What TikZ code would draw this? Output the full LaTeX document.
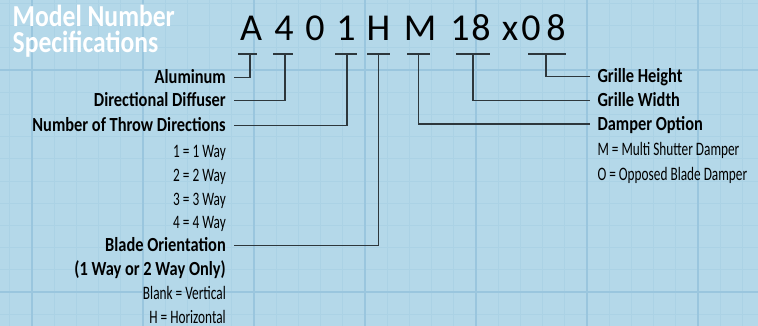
\documentclass[tikz,border=0pt]{standalone}
\usepackage{fontspec}
\setmainfont{Carlito}
\newfontfamily\titlefont[FakeStretch=0.84]{Carlito}
\newfontfamily\boldcond[FakeStretch=0.82]{Carlito}
\newfontfamily\lightcond[FakeStretch=0.7]{Carlito}
\usepackage{tikz}
\usetikzlibrary{positioning}
\definecolor{gridbg}{RGB}{180,216,233}
\definecolor{gridmajor}{RGB}{154,198,222}
\definecolor{gridminor}{RGB}{171,210,229}
\definecolor{leadgray}{RGB}{45,55,60}
\tikzset{
  code/.style={font=\fontsize{38}{38}\selectfont, anchor=base, inner sep=0pt},
  ttl/.style={font=\titlefont\bfseries\fontsize{30.5}{30.5}\selectfont,
    text=white, anchor=base west, inner sep=0pt},
  head/.style={font=\boldcond\bfseries\fontsize{20}{20}\selectfont,
    text height=12.2pt, text depth=0pt, inner sep=0pt},
  opt/.style={font=\lightcond\fontsize{19}{19}\selectfont,
    text height=12.2pt, text depth=0pt, inner sep=0pt},
  bar/.style={draw=leadgray, line width=1.3pt},
  lead/.style={draw=leadgray, line width=1.3pt},
  minor/.style={draw=gridminor, line width=0.7pt},
  major/.style={draw=gridmajor, line width=1.5pt},
}
\begin{document}
\begin{tikzpicture}[x=1pt, y=-1pt]

% background and grid
\fill[gridbg] (0,0) rectangle (758,326);
\useasboundingbox (0,0) rectangle (758,326);
\foreach \i in {0,...,34} {\draw[minor] ({9.8+22.2*\i},0) -- ++(0,326);}
\foreach \j in {0,...,14} {\draw[minor] (0,{3.4+22.2*\j}) -- ++(758,0);}
\foreach \i in {0,...,6} {\draw[major] ({32+111*\i},0) -- ++(0,326);}
\foreach \j in {70,292} {\draw[major] (0,\j) -- ++(758,0);}

% title
\node[ttl] (title1) at (12.5,26.7) {Model Number};
\node[ttl] (title2) at (12.5,52.2) {Specifications};

% model number
\node[code] (cA) at (251,41) {A};
\node[code] (c4) at (284,41) {4};
\node[code] (c0) at (315,41) {0};
\node[code] (c1) at (346,41) {1};
\node[code] (cH) at (378.5,41) {H};
\node[code] (cM) at (420,41) {M};
\node[code] (cW1) at (460,41) {1};
\node[code] (cW8) at (481,41) {8};
\node[code] (cx) at (510,41) {x};
\node[code] (cH0) at (531,41) {0};
\node[code] (cH8) at (556,41) {8};

\foreach \a/\b/\m/\n in {238/257/250/tA, 273/293/285/t4, 335/357/347/t1,
  367/390/378.5/tH, 407/430/418.5/tM, 456/490/473/t18, 528/566/546/t08}
  {\draw[bar] (\a,54) -- (\b,54);
   \coordinate (\n) at (\m,54);}

% left side
\node[head, anchor=east] (alu) at (226,77.8) {Aluminum};
\node[head, anchor=east] (diff) at (226,100.3) {Directional Diffuser};
\node[head, anchor=east] (num) at (226,125.8) {Number of Throw Directions};
\node[opt, below left=12.8pt and 0pt of num.south east] (w1) {1 = 1 Way};
\node[opt, below left=11.3pt and 0pt of w1.south east] (w2) {2 = 2 Way};
\node[opt, below left=11.3pt and 0pt of w2.south east] (w3) {3 = 3 Way};
\node[opt, below left=11.3pt and 0pt of w3.south east] (w4) {4 = 4 Way};
\node[head, anchor=east] (blade) at (226,245.6) {Blade Orientation};
\node[head, below left=11.5pt and 0pt of blade.south east] (only) {(1 Way or 2 Way Only)};
\node[opt, below left=10.8pt and 0pt of only.south east] (vert) {Blank = Vertical};
\node[opt, below left=11.3pt and 0pt of vert.south east] (horiz) {H = Horizontal};

\draw[lead] (tA) |- ([xshift=8pt]alu.east);
\draw[lead] (t4) |- ([xshift=8pt]diff.east);
\draw[lead] (t1) |- ([xshift=8pt]num.east);
\draw[lead] (tH) |- ([xshift=8pt]blade.east);

% right side
\node[head, anchor=west] (high) at (597.3,76.2) {Grille Height};
\node[head, anchor=west] (wide) at (597.3,100.3) {Grille Width};
\node[head, anchor=west] (damp) at (597.3,124) {Damper Option};
\node[opt, below right=12.5pt and 0pt of damp.south west] (multi) {M = Multi Shutter Damper};
\node[opt, below right=12.3pt and 0pt of multi.south west] (oppo) {O = Opposed Blade Damper};

\draw[lead] (t08) |- ([xshift=-7pt]high.west);
\draw[lead] (t18) |- ([xshift=-7pt]wide.west);
\draw[lead] (tM) |- ([xshift=-7pt]damp.west);

\end{tikzpicture}
\end{document}
